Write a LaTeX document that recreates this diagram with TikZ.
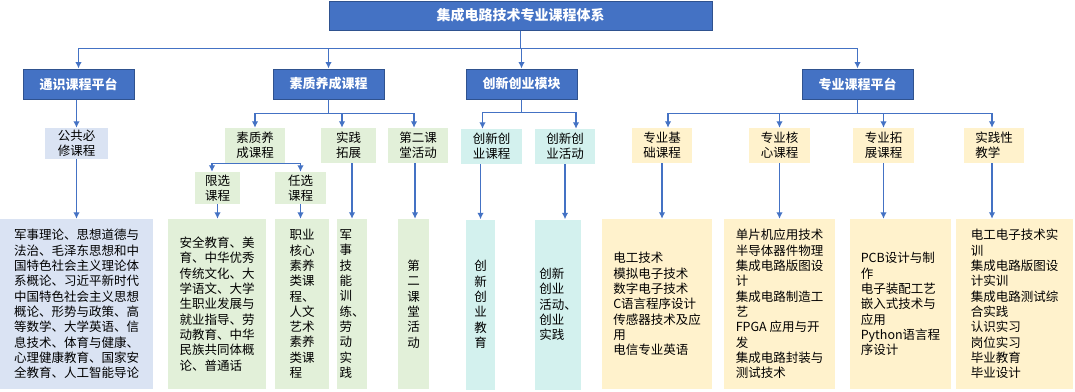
\documentclass[tikz,border=0pt]{standalone}
\usepackage{fontspec}
\setmainfont{Noto Sans CJK SC}
\usepackage{xcolor}
\usetikzlibrary{arrows.meta}
\definecolor{myblue}{RGB}{68,114,196}
\definecolor{mydarkblue}{RGB}{47,82,143}
\definecolor{tsblue}{RGB}{218,227,243}
\definecolor{szgreen}{RGB}{226,240,217}
\definecolor{cxcyan}{RGB}{211,241,238}
\definecolor{zyyellow}{RGB}{255,242,204}

\begin{document}
\begin{tikzpicture}[x=1pt,y=-1pt,
dkbox/.style={draw=mydarkblue, fill=myblue, text=white, line width=1pt, inner sep=0pt,
  font=\fontsize{13}{15}\selectfont\bfseries, minimum width=111pt, minimum height=30pt},
ltbox/.style={inner sep=0pt, align=left, font=\fontsize{12.5}{15}\selectfont, minimum height=35pt},
txtbox/.style={inner sep=0pt, align=left, font=\fontsize{12.5}{15.3}\selectfont, minimum height=170pt},
arr/.style={-{Latex[length=6.5pt,width=6.5pt]}, draw=myblue, line width=1.3pt}]
\useasboundingbox (0,0) rectangle (1075,391);

%top
\node[dkbox, minimum width=383pt, minimum height=29pt, font=\fontsize{14}{16}\selectfont\bfseries] (top) at (520.5,15.5) {集成电路技术专业课程体系};

%platforms
\node[dkbox] (tszx) at (78.5,84) {通识课程平台};
\node[dkbox] (szyc) at (328.5,84) {素质养成课程};
\node[dkbox] (cxcy) at (521.5,84) {创新创业模块};
\node[dkbox] (zykc) at (857.5,84) {专业课程平台};

\draw[arr] (top.south) -- ++(0,18) -| (tszx.north);
\draw[arr] (top.south) -- ++(0,18) -| (szyc.north);
\draw[arr] (top.south) -- ++(0,18) -| (cxcy.north);
\draw[arr] (top.south) -- ++(0,18) -| (zykc.north);

%course groups
\node[ltbox, fill=tsblue, minimum width=63pt, minimum height=31pt] (ggbx) at (76.5,143.5) {公共必\\修课程};
\node[ltbox, fill=szgreen, minimum width=60pt] (szyc2) at (255,145.5) {素质养\\成课程};
\node[ltbox, fill=szgreen, minimum width=55pt] (sjtz) at (348.5,145.5) {实践\\拓展};
\node[ltbox, fill=szgreen, minimum width=60pt] (dekt) at (418,145.5) {第二课\\堂活动};
\node[ltbox, fill=cxcyan, minimum width=61pt] (cxkc) at (491.5,146.5) {创新创\\业课程};
\node[ltbox, fill=cxcyan, minimum width=60pt] (cxhd) at (565,146.5) {创新创\\业活动};
\node[ltbox, fill=zyyellow, minimum width=60pt] (zyjc) at (662,145.5) {专业基\\础课程};
\node[ltbox, fill=zyyellow, minimum width=61pt] (zyhx) at (779.5,145.5) {专业核\\心课程};
\node[ltbox, fill=zyyellow, minimum width=61pt] (zytz) at (883.5,145.5) {专业拓\\展课程};
\node[ltbox, fill=zyyellow, minimum width=60pt] (sjxjx) at (994,145.5) {实践性\\教学};

\node[ltbox, fill=szgreen, minimum width=45pt, minimum height=32pt] (xxkc) at (217.5,188) {限选\\课程};
\node[ltbox, fill=szgreen, minimum width=51pt, minimum height=32pt] (rxkc) at (300.5,188) {任选\\课程};

\draw[arr] (ggbx.north |- tszx.south) -- (ggbx.north);

\draw[arr] (szyc.south) -- ++(0,14) -| (szyc2.north);
\draw[arr] (szyc.south) -- ++(0,14) -| ([xshift=-6.5pt]sjtz.north);
\draw[arr] (szyc.south) -- ++(0,14) -| ([xshift=-4pt]dekt.north);
\draw[arr] (szyc2.south) -| ([xshift=-5.5pt]xxkc.north);
\draw[arr] (szyc2.south) -| (rxkc.north);

\draw[arr] (cxcy.south) -- ++(0,13) -| ([xshift=-9pt]cxkc.north);
\draw[arr] (cxcy.south) -- ++(0,13) -| ([xshift=11pt]cxhd.north);

\draw[arr] (zykc.south) -- ++(0,14) -| ([xshift=6pt]zyjc.north);
\draw[arr] (zykc.south) -- ++(0,14) -| (zyhx.north);
\draw[arr] (zykc.south) -- ++(0,14) -| (zytz.north);
\draw[arr] (zykc.south) -- ++(0,14) -| ([xshift=-2pt]sjxjx.north);

%course lists
\node[txtbox, fill=tsblue, minimum width=153pt] (ggbxb) at (76.5,304) {军事理论、思想道德与\\法治、毛泽东思想和中\\国特色社会主义理论体\\系概论、习近平新时代\\中国特色社会主义思想\\概论、形势与政策、高\\等数学、大学英语、信\\息技术、体育与健康、\\心理健康教育、国家安\\全教育、人工智能导论};
\node[txtbox, fill=szgreen, minimum width=98pt] (xxkcb) at (217,304) {安全教育、美\\育、中华优秀\\传统文化、大\\学语文、大学\\生职业发展与\\就业指导、劳\\动教育、中华\\民族共同体概\\论、普通话};
\node[txtbox, fill=szgreen, minimum width=54pt] (rxkcb) at (302,304) {职业\\核心\\素养\\类课\\程、\\人文\\艺术\\素养\\类课\\程};
\node[txtbox, fill=szgreen, minimum width=30pt] (sjtzb) at (352,304) {军\\事\\技\\能\\训\\练、\\劳\\动\\实\\践};
\node[txtbox, fill=szgreen, minimum width=31pt] (dektb) at (413.5,304) {第\\二\\课\\堂\\活\\动};
\node[txtbox, fill=cxcyan, minimum width=29pt] (cxjy) at (480.5,304.5) {创\\新\\创\\业\\教\\育};
\node[txtbox, fill=cxcyan, minimum width=46pt] (cxsj) at (558,304.5) {创新\\创业\\活动、\\创业\\实践};
\node[txtbox, fill=zyyellow, minimum width=110pt] (zyjcb) at (657,304) {电工技术\\模拟电子技术\\数字电子技术\\C语言程序设计\\传感器技术及应\\用\\电信专业英语};
\node[txtbox, fill=zyyellow, minimum width=111pt] (zyhxb) at (779.5,304) {单片机应用技术\\半导体器件物理\\集成电路版图设\\计\\集成电路制造工\\艺\\FPGA 应用与开\\发\\集成电路封装与\\测试技术};
\node[txtbox, fill=zyyellow, minimum width=101pt] (zytzb) at (900.5,304) {PCB设计与制\\作\\电子装配工艺\\嵌入式技术与\\应用\\Python语言程\\序设计};
\node[txtbox, fill=zyyellow, minimum width=117pt] (sjxjxb) at (1014.5,304) {电工电子技术实\\训\\集成电路版图设\\计实训\\集成电路测试综\\合实践\\认识实习\\岗位实习\\毕业教育\\毕业设计};

\draw[arr] (ggbx.south) -- (ggbxb.north);
\draw[arr] (xxkc.south) -- (xxkc.south |- xxkcb.north);
\draw[arr] (rxkc.south) -- (rxkc.south |- rxkcb.north);
\draw[arr] (sjtzb.north |- sjtz.south) -- (sjtzb.north);
\draw[arr] ([xshift=-3pt]dekt.south) -- ([xshift=-3pt]dekt.south |- dektb.north);
\draw[arr] (cxjy.north |- cxkc.south) -- (cxjy.north);
\draw[arr] (cxhd.south) -- (cxhd.south |- cxsj.north);
\draw[arr] (zyjc.south) -- (zyjc.south |- zyjcb.north);
\draw[arr] (zyhx.south) -- (zyhx.south |- zyhxb.north);
\draw[arr] (zytz.south) -- (zytz.south |- zytzb.north);
\draw[arr] ([xshift=-2pt]sjxjx.south) -- ([xshift=-2pt]sjxjx.south |- sjxjxb.north);
\end{tikzpicture}
\end{document}
